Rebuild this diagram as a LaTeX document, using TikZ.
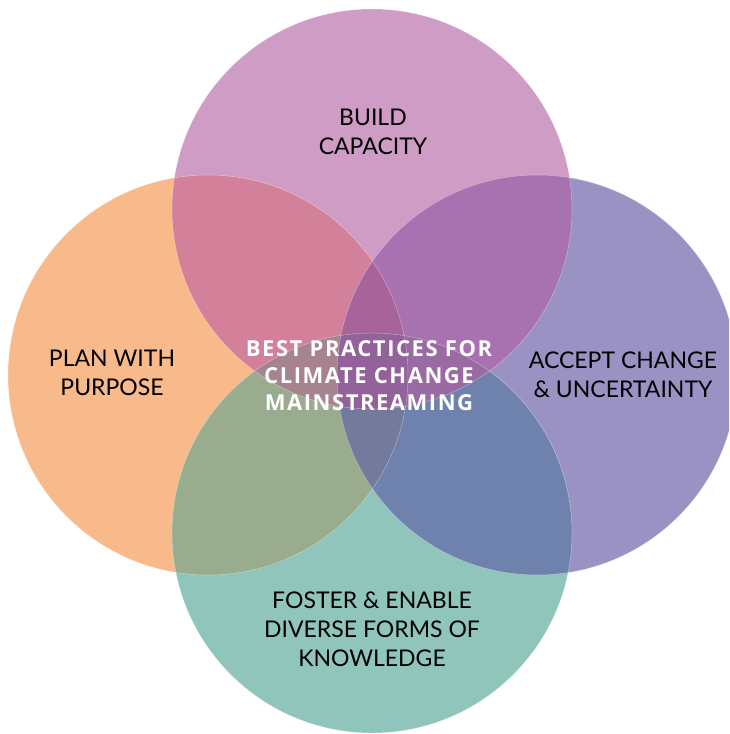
\documentclass[tikz,border=0pt]{standalone}
\usepackage{fontspec}
\setmainfont{Lato}
\newfontfamily\corefont{Open Sans}[LetterSpace=7]
\definecolor{cTop}{HTML}{CF9CC5}
\definecolor{cLeft}{HTML}{F9BA8B}
\definecolor{cRight}{HTML}{9B92C4}
\definecolor{cBottom}{HTML}{8FC5BA}
\definecolor{cTL}{HTML}{D3809A}
\definecolor{cTR}{HTML}{A871B0}
\definecolor{cLB}{HTML}{99AC8D}
\definecolor{cRB}{HTML}{6F82AD}
\definecolor{cTLR}{HTML}{A8639A}
\definecolor{cLRB}{HTML}{747A9B}
\definecolor{cTBL}{HTML}{A6848E}
\definecolor{cTBR}{HTML}{9A6AA2}
\definecolor{cAll}{HTML}{93629A}
\newcommand{\circTop}{(372,209) circle[radius=200]}
\newcommand{\circLeft}{(208,375) circle[radius=200]}
\newcommand{\circRight}{(537,375) circle[radius=200]}
\newcommand{\circBottom}{(372,533) circle[radius=200]}
\tikzset{
  label text/.style={align=center, text=black, font=\fontsize{23}{29}\selectfont},
  core text/.style={align=center, text=white, font=\corefont\bfseries\fontsize{22}{27}\selectfont},
  rim/.style={draw=white, draw opacity=0.4, line width=0.5pt}
}
\begin{document}
\begin{tikzpicture}[x=1pt,y=-1pt]
  \useasboundingbox (0,0) rectangle (729,734);
  \clip (0,0) rectangle (729,734);
  % single circles
  \fill[cTop] \circTop;
  \fill[cLeft] \circLeft;
  \fill[cRight] \circRight;
  \fill[cBottom] \circBottom;
  % pairwise overlaps
  \begin{scope}\clip \circTop; \fill[cTL] \circLeft; \fill[cTR] \circRight; \end{scope}
  \begin{scope}\clip \circBottom; \fill[cLB] \circLeft; \fill[cRB] \circRight; \end{scope}
  % triple overlaps
  \begin{scope}\clip \circLeft; \clip \circRight; \fill[cTLR] \circTop; \fill[cLRB] \circBottom; \end{scope}
  \begin{scope}\clip \circTop; \clip \circBottom; \fill[cTBL] \circLeft; \fill[cTBR] \circRight; \end{scope}
  % all four
  \begin{scope}\clip \circTop; \clip \circBottom; \clip \circLeft; \fill[cAll] \circRight; \end{scope}
  % faint rims
  \draw[rim] \circTop;
  \draw[rim] \circLeft;
  \draw[rim] \circRight;
  \draw[rim] \circBottom;
  % labels
  \node[label text] (build) at (373,132) {BUILD\\CAPACITY};
  \node[label text] (plan) at (112,373) {PLAN WITH\\PURPOSE};
  \node[label text] (accept) at (623,375) {ACCEPT CHANGE\\\& UNCERTAINTY};
  \node[label text] (foster) at (372,629) {FOSTER \& ENABLE\\DIVERSE FORMS OF\\KNOWLEDGE};
  \node[core text] (core) at (369,376) {BEST PRACTICES FOR\\CLIMATE CHANGE\\MAINSTREAMING};
\end{tikzpicture}
\end{document}
